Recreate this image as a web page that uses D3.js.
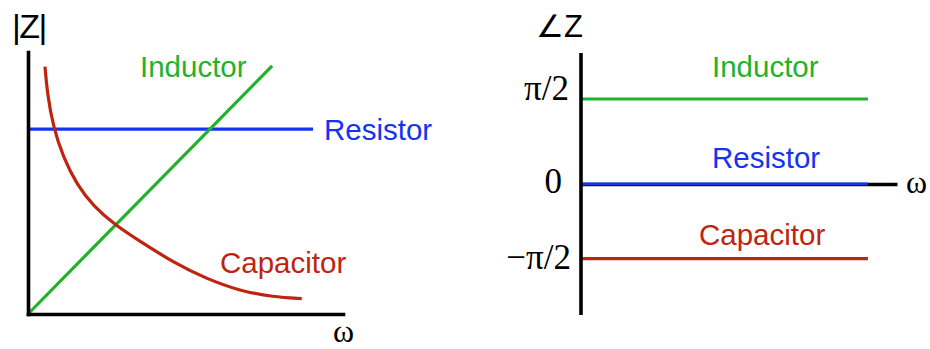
<!DOCTYPE html>
<html>
<head>
<meta charset="utf-8">
<script src="https://cdn.jsdelivr.net/npm/d3@7"></script>
<style>
  html, body { margin: 0; padding: 0; background: #fff; }
  svg { display: block; }
  .sans { font-family: "Liberation Sans", Arial, sans-serif; }
  .serif { font-family: "Liberation Serif", "Times New Roman", serif; }
</style>
</head>
<body>
<svg id="chart" width="930" height="349"></svg>
<script>
// ---- data ----------------------------------------------------------
// Magnitude panel (arbitrary units of ω and |Z|)
const omegaSpan = [0, 10];
const magSpan = [0, 10];
const inductorMag = [[0, 0], [7.75, 9.47]];
const resistorMag = [[0, 7.06], [9.05, 7.06]];
const capacitorMag = [
  [0.54, 9.44], [0.61, 8.44], [0.80, 7.14], [1.12, 5.97], [1.55, 4.94],
  [2.07, 4.12], [2.76, 3.40], [3.56, 2.77], [4.61, 1.97], [5.67, 1.34],
  [6.73, 0.88], [7.79, 0.65], [8.69, 0.59]
];

// Phase panel (radians)
const phaseTicks = [Math.PI / 2, 0, -Math.PI / 2];
const phaseTickLabels = ["π/2", "0", "−π/2"];
const phaseEnd = 9.08;
const inductorPhase = [[0, Math.PI / 2], [phaseEnd, Math.PI / 2]];
const resistorPhase = [[0, 0], [phaseEnd, 0]];
const capacitorPhase = [[0, -Math.PI / 2], [phaseEnd, -Math.PI / 2]];

const seriesNames = ["Inductor", "Resistor", "Capacitor"];
const colors = { Inductor: "#1fb22a", Resistor: "#1434f2", Capacitor: "#bf240f" };

// ---- drawing -------------------------------------------------------
const svg = d3.select("#chart");

// left panel: |Z| versus ω
const xMag = d3.scaleLinear().domain(omegaSpan).range([28, 343]);
const yMag = d3.scaleLinear().domain(magSpan).range([314, 52]);

const left = svg.append("g");
const lineMag = d3.line().x(d => xMag(d[0])).y(d => yMag(d[1]));

left.append("path").datum(resistorMag).attr("d", lineMag)
  .attr("fill", "none").attr("stroke", colors.Resistor).attr("stroke-width", 3.2);
left.append("path").datum(inductorMag).attr("d", lineMag)
  .attr("fill", "none").attr("stroke", colors.Inductor).attr("stroke-width", 3.2);
left.append("path").datum(capacitorMag)
  .attr("d", d3.line().x(d => xMag(d[0])).y(d => yMag(d[1])).curve(d3.curveBasis))
  .attr("fill", "none").attr("stroke", colors.Capacitor).attr("stroke-width", 3.2);

const axLeftX = left.append("g").attr("transform", `translate(0,${yMag(0)})`)
  .call(d3.axisBottom(xMag).tickValues([]).tickSizeOuter(0));
const axLeftY = left.append("g").attr("transform", `translate(${xMag(0)},0)`)
  .call(d3.axisLeft(yMag).tickValues([]).tickSizeOuter(0));
[axLeftX, axLeftY].forEach(a => a.select(".domain")
  .attr("stroke", "#000").attr("stroke-width", 3.6).attr("stroke-linecap", "square"));

left.append("text").attr("class", "sans").attr("x", 12).attr("y", 38)
  .attr("font-size", 34).attr("letter-spacing", -1.5).text("|Z|");
left.append("text").attr("class", "serif").attr("x", 333).attr("y", 342)
  .attr("font-size", 32).text("ω");

const magLabels = [
  { name: "Inductor", x: 140, y: 77 },
  { name: "Resistor", x: 324, y: 140 },
  { name: "Capacitor", x: 220, y: 273 }
];
left.selectAll("text.series").data(magLabels).join("text")
  .attr("class", "series sans")
  .attr("x", d => d.x).attr("y", d => d.y)
  .attr("font-size", 29.5).attr("fill", d => colors[d.name])
  .text(d => d.name);

// right panel: ∠Z versus ω
const xPh = d3.scaleLinear().domain(omegaSpan).range([581, 897]);
const yPh = d3.scaleLinear()
  .domain([-Math.PI / 2, 0, Math.PI / 2]).range([258.7, 184, 99]);

const right = svg.append("g");
const linePh = d3.line().x(d => xPh(d[0])).y(d => yPh(d[1]));

// horizontal ω axis along zero phase
const axRightX = right.append("g").attr("transform", `translate(0,${yPh(0)})`)
  .call(d3.axisBottom(xPh).tickValues([]).tickSizeOuter(0));
axRightX.select(".domain").attr("stroke", "#000").attr("stroke-width", 3.4);

[[inductorPhase, "Inductor"], [resistorPhase, "Resistor"], [capacitorPhase, "Capacitor"]]
  .forEach(([data, name]) => {
    right.append("path").datum(data).attr("d", linePh)
      .attr("fill", "none").attr("stroke", colors[name]).attr("stroke-width", 3.2);
  });

// vertical phase axis
right.append("line")
  .attr("x1", xPh(0)).attr("x2", xPh(0)).attr("y1", 53).attr("y2", 315)
  .attr("stroke", "#000").attr("stroke-width", 3.6);

// tick labels (no tick marks)
const tickOffsets = { "π/2": [-12, 0], "0": [-19, 8.5], "−π/2": [-10, 9.5] };
const axRightY = right.append("g").attr("transform", `translate(${xPh(0)},0)`)
  .call(d3.axisLeft(yPh).tickValues(phaseTicks).tickSize(0)
    .tickFormat((d, i) => phaseTickLabels[i]));
axRightY.select(".domain").remove();
axRightY.selectAll(".tick text")
  .attr("class", "serif")
  .attr("font-family", "Liberation Serif, Times New Roman, serif")
  .attr("font-size", 35).attr("fill", "#000")
  .attr("x", (d, i) => tickOffsets[phaseTickLabels[i]][0])
  .attr("dy", (d, i) => tickOffsets[phaseTickLabels[i]][1]);

right.append("text").attr("class", "sans").attr("x", 536).attr("y", 37)
  .attr("font-family", "DejaVu Sans, sans-serif")
  .attr("font-size", 31).text("∠Z");
right.append("text").attr("class", "serif").attr("x", 906).attr("y", 193)
  .attr("font-size", 32).text("ω");

const phLabels = [
  { name: "Inductor", x: 712, y: 77 },
  { name: "Resistor", x: 712, y: 168 },
  { name: "Capacitor", x: 699, y: 245 }
];
right.selectAll("text.series").data(phLabels).join("text")
  .attr("class", "series sans")
  .attr("x", d => d.x).attr("y", d => d.y)
  .attr("font-size", 29.5).attr("fill", d => colors[d.name])
  .text(d => d.name);
</script>
</body>
</html>
